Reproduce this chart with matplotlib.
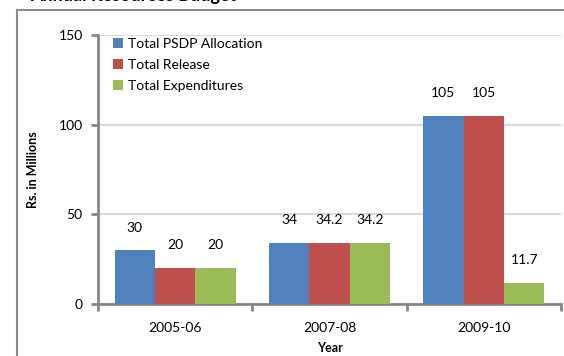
import numpy as np
import matplotlib.pyplot as plt
from matplotlib.lines import Line2D

plt.rcParams['font.family'] = ['Lato', 'DejaVu Sans']

years = ['2005-06', '2007-08', '2009-10']
series = ['Total PSDP Allocation', 'Total Release', 'Total Expenditures']
allocation = [30, 34, 105]
release = [20, 34.2, 105]
expenditure = [20, 34.2, 11.7]
labels = [['30', '34', '105'], ['20', '34.2', '105'], ['20', '34.2', '11.7']]
colors = ['#4F81BD', '#C0504D', '#9BBB59']

fig = plt.figure(figsize=(5.64, 3.56), dpi=100)
ax = fig.add_axes([98/564, 1-304/356, 463/564, 269/356])

x = np.arange(len(years))
w = 0.262
for i, vals in enumerate([allocation, release, expenditure]):
    bars = ax.bar(x + (i-1)*w, vals, w, color=colors[i], label=series[i], zorder=3)
    for b, v, t in zip(bars, vals, labels[i]):
        ax.annotate(t, (b.get_x() + b.get_width()/2, v), xytext=(0, 12),
                    textcoords='offset points', ha='center', va='bottom', fontsize=10)

ax.set_xlim(-0.5, 2.5)
ax.set_ylim(0, 150)
ax.set_yticks([0, 50, 100, 150])
ax.set_xticks(x)
ax.set_xticklabels(years, fontsize=10)
ax.set_xticks([-0.5, 0.5, 1.5, 2.5], minor=True)
ax.tick_params(axis='x', which='major', length=0, pad=13)
ax.tick_params(axis='x', which='minor', length=5, width=2, color='#868686')
ax.tick_params(axis='y', length=5, width=2, color='#868686', labelsize=10, pad=6)
ax.yaxis.grid(True, color='#D9D9D9', linewidth=1.5, zorder=0)
for s in ['top', 'right']:
    ax.spines[s].set_visible(False)
for s in ['left', 'bottom']:
    ax.spines[s].set_color('#868686')
    ax.spines[s].set_linewidth(2)

ax.set_ylabel('Rs. in Millions', fontsize=9, fontweight='bold', labelpad=14)
ax.set_xlabel('Year', fontsize=9, fontweight='bold', labelpad=6)

leg = ax.legend(loc='upper left', bbox_to_anchor=(0.005, 1.035), frameon=False,
                fontsize=10, handlelength=0.7, handleheight=0.7, handletextpad=0.4,
                labelspacing=0.65)

# outer chart frame with the heading just above it
fig.add_artist(Line2D([17/564, 17/564], [0, 1-10/356], color='#8C8C8C', linewidth=1.5))
fig.add_artist(Line2D([17/564, 1], [1-10/356, 1-10/356], color='#8C8C8C', linewidth=1.5))
fig.text(30/564, 1-0.5/356, 'Annual Resources Budget', fontsize=13, fontweight='bold',
         va='baseline', ha='left')

fig.savefig('out.png', dpi=100)
